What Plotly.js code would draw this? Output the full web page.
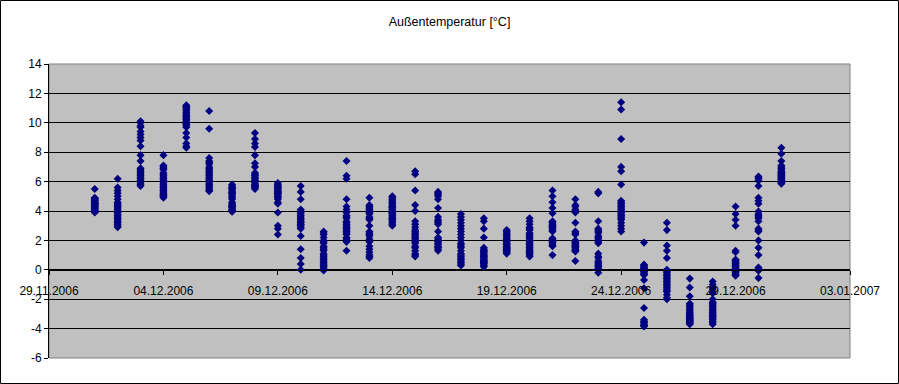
<!DOCTYPE html>
<html>
<head>
<meta charset="utf-8">
<script src="https://cdn.plot.ly/plotly-3.0.1.min.js"></script>
<style>html,body{margin:0;padding:0;background:#fff;}#chart{width:899px;height:384px;}</style>
</head>
<body>
<div id="chart"></div>
<script>
const chartTitle = "Außentemperatur [°C]";
const days = ["2006-12-01","2006-12-02","2006-12-03","2006-12-04","2006-12-05","2006-12-06","2006-12-07","2006-12-08","2006-12-09","2006-12-10","2006-12-11","2006-12-12","2006-12-13","2006-12-14","2006-12-15","2006-12-16","2006-12-17","2006-12-18","2006-12-19","2006-12-20","2006-12-21","2006-12-22","2006-12-23","2006-12-24","2006-12-25","2006-12-26","2006-12-27","2006-12-28","2006-12-29","2006-12-30","2006-12-31"];
const temps = [
  [5.5, 4.9, 4.8, 4.7, 4.6, 4.5, 4.4, 4.3, 4.2, 4.1, 4.0, 3.9, 3.95, 4.05, 4.15, 4.25, 4.35, 4.5, 4.6, 4.7, 4.8, 4.85, 4.55, 4.45],
  [6.2, 5.6, 5.4, 5.2, 5.0, 4.8, 4.6, 4.4, 4.2, 4.0, 3.8, 3.7, 3.6, 3.5, 3.4, 3.3, 3.2, 3.1, 3.0, 2.9, 4.5, 4.3, 4.1, 3.9],
  [10.1, 10.0, 9.8, 9.7, 9.4, 9.2, 9.0, 8.8, 8.4, 7.8, 7.4, 6.8, 6.7, 6.5, 6.4, 6.3, 6.2, 6.1, 6.0, 5.9, 5.8, 5.7, 6.6, 6.9],
  [7.8, 7.1, 7.0, 6.8, 6.6, 6.5, 6.3, 6.2, 6.0, 5.9, 5.8, 5.6, 5.5, 5.4, 5.3, 5.2, 5.1, 5.0, 4.9, 6.9, 6.4, 5.7, 5.05, 6.1],
  [11.2, 11.1, 11.0, 10.9, 10.8, 10.6, 10.5, 10.4, 10.2, 10.1, 10.0, 9.9, 9.8, 9.7, 9.3, 9.0, 8.6, 8.4, 8.3, 10.3, 10.7, 9.95, 10.45, 11.05],
  [10.8, 9.6, 7.6, 7.4, 7.2, 7.0, 6.9, 6.8, 6.6, 6.5, 6.4, 6.2, 6.1, 6.0, 5.9, 5.8, 5.7, 5.6, 5.5, 5.4, 7.3, 6.7, 6.3, 5.35],
  [5.8, 5.7, 5.6, 5.5, 5.4, 5.3, 5.2, 5.1, 5.0, 4.9, 4.8, 4.6, 4.5, 4.4, 4.3, 4.2, 4.1, 4.0, 3.95, 4.35, 5.55, 5.25, 4.05, 4.25],
  [9.3, 8.9, 8.6, 8.35, 7.8, 7.25, 7.0, 6.6, 6.5, 6.4, 6.3, 6.2, 6.1, 6.0, 5.9, 5.8, 5.7, 5.6, 5.5, 6.45, 6.25, 6.05, 5.75, 5.65],
  [5.9, 5.8, 5.7, 5.6, 5.5, 5.4, 5.3, 5.2, 5.1, 5.0, 4.9, 4.8, 4.6, 4.5, 3.9, 3.0, 2.8, 2.4, 5.65, 5.35, 5.15, 4.95, 5.55, 5.25],
  [5.7, 5.3, 4.8, 4.1, 4.0, 3.9, 3.8, 3.7, 3.4, 3.3, 3.2, 3.1, 3.0, 2.9, 2.8, 2.3, 1.4, 0.8, 0.4, 0.0, 3.6, 3.5, 3.25, 3.05],
  [2.6, 2.4, 2.2, 2.0, 1.8, 1.6, 1.4, 1.3, 1.1, 1.0, 0.9, 0.8, 0.7, 0.6, 0.5, 0.4, 0.3, 0.2, 0.1, 0.0, -0.05, 2.5, 1.9, 1.5],
  [7.4, 6.4, 6.2, 4.8, 4.3, 4.1, 3.9, 3.7, 3.5, 3.3, 3.2, 3.0, 2.9, 2.8, 2.7, 2.6, 2.5, 2.4, 2.2, 2.1, 1.9, 1.3, 3.6, 3.1],
  [4.9, 4.4, 4.3, 4.2, 4.0, 3.9, 3.8, 3.6, 3.5, 3.4, 3.0, 2.6, 2.5, 2.3, 2.1, 1.9, 1.6, 1.4, 1.2, 1.0, 0.9, 0.8, 4.1, 2.4],
  [5.0, 4.9, 4.8, 4.7, 4.6, 4.5, 4.4, 4.3, 4.2, 4.1, 4.0, 3.9, 3.8, 3.7, 3.6, 3.5, 3.4, 3.3, 3.2, 3.1, 3.0, 4.25, 3.85, 3.45],
  [6.7, 6.5, 5.4, 4.4, 4.0, 3.3, 3.1, 2.9, 2.7, 2.5, 2.4, 2.3, 2.2, 2.1, 2.0, 1.9, 1.8, 1.6, 1.5, 1.3, 1.1, 1.0, 0.9, 2.6],
  [5.3, 5.2, 5.0, 4.8, 4.2, 3.6, 3.4, 3.2, 3.1, 2.6, 2.2, 2.1, 2.0, 1.9, 1.8, 1.7, 1.6, 1.5, 1.4, 1.3, 5.1, 3.3, 1.95, 1.55],
  [3.8, 3.6, 3.4, 3.2, 3.0, 2.8, 2.6, 2.4, 2.2, 2.0, 1.8, 1.7, 1.5, 1.3, 1.1, 1.0, 0.9, 0.8, 0.7, 0.6, 0.5, 0.4, 0.3, 1.6],
  [3.5, 3.3, 2.8, 2.2, 1.5, 1.4, 1.3, 1.2, 1.1, 1.0, 0.9, 0.85, 0.8, 0.7, 0.6, 0.55, 0.5, 0.4, 0.3, 0.2, 1.25, 0.95, 0.65, 0.45],
  [2.7, 2.6, 2.5, 2.4, 2.3, 2.2, 2.1, 2.0, 1.95, 1.9, 1.8, 1.7, 1.6, 1.5, 1.45, 1.4, 1.3, 1.25, 1.2, 1.1, 2.05, 1.75, 1.55, 1.35],
  [3.5, 3.3, 3.1, 2.9, 2.7, 2.5, 2.4, 2.2, 2.1, 2.0, 1.9, 1.8, 1.6, 1.5, 1.4, 1.3, 1.2, 1.1, 1.0, 0.9, 2.3, 1.7, 2.8, 1.25],
  [5.4, 5.0, 4.6, 4.2, 3.85, 3.3, 3.2, 3.1, 3.0, 2.9, 2.8, 2.7, 2.6, 2.15, 2.05, 1.95, 1.85, 1.75, 1.65, 1.6, 1.0, 3.25, 2.95, 2.0],
  [4.8, 4.4, 4.0, 3.2, 2.6, 2.4, 2.0, 1.9, 1.8, 1.7, 1.6, 1.5, 1.4, 1.3, 1.25, 0.6, 4.3, 3.9, 2.5, 1.85, 1.55, 1.35, 4.1, 1.65],
  [5.3, 5.2, 3.3, 2.8, 2.7, 2.5, 2.3, 2.2, 2.0, 1.9, 1.8, 1.1, 0.8, 0.6, 0.4, 0.2, 0.0, -0.2, 2.6, 2.1, 0.9, 0.5, 0.3, 0.1],
  [11.4, 10.9, 8.9, 7.0, 6.7, 5.8, 4.7, 4.5, 4.4, 4.3, 4.2, 4.1, 4.0, 3.9, 3.8, 3.7, 3.6, 3.4, 3.2, 3.0, 2.8, 2.6, 4.6, 3.5],
  [1.85, 0.35, 0.25, 0.15, 0.05, -0.05, -0.15, -0.25, -0.35, -0.7, -1.25, -2.6, -3.4, -3.5, -3.6, -3.7, -3.8, -3.85, 0.3, 0.1, -0.1, -0.3, -3.55, -3.75],
  [3.2, 2.7, 1.65, 1.3, 0.8, 0.0, -0.1, -0.2, -0.3, -0.4, -0.5, -0.6, -0.7, -0.8, -0.9, -1.0, -1.1, -1.2, -1.3, -1.4, -1.5, -1.7, -1.9, -2.0],
  [-0.6, -1.2, -1.8, -2.3, -2.4, -2.5, -2.6, -2.7, -2.8, -2.9, -3.0, -3.05, -3.1, -3.2, -3.25, -3.3, -3.35, -3.4, -3.45, -3.5, -3.55, -3.6, -3.65, -3.7],
  [-0.8, -1.0, -1.3, -1.6, -2.0, -2.3, -2.5, -2.6, -2.7, -2.8, -2.9, -3.0, -3.1, -3.2, -3.3, -3.4, -3.5, -3.6, -3.7, -1.2, -1.5, -2.2, -2.4, -3.15],
  [4.3, 3.8, 3.4, 3.0, 1.3, 1.2, 0.7, 0.6, 0.5, 0.4, 0.3, 0.2, 0.1, 0.0, -0.1, -0.2, -0.3, -0.4, 0.65, 0.45, 0.25, 0.05, -0.15, -0.35],
  [6.35, 6.2, 6.05, 5.7, 4.9, 4.7, 4.5, 3.97, 3.8, 3.7, 3.5, 3.3, 2.8, 2.7, 2.6, 2.0, 1.5, 1.0, 0.15, 0.05, -0.07, -0.55, 3.6, 6.25],
  [8.3, 7.9, 7.4, 7.0, 6.9, 6.8, 6.7, 6.65, 6.6, 6.5, 6.45, 6.4, 6.35, 6.3, 6.25, 6.2, 6.15, 6.1, 6.0, 5.95, 5.9, 5.85, 7.1, 6.55]
];
const xRange = ["2006-11-29", "2007-01-03"];
const yTicks = [-6, -4, -2, 0, 2, 4, 6, 8, 10, 12, 14];

const xs = [], ys = [];
days.forEach((d, i) => temps[i].forEach(v => { xs.push(d); ys.push(v); }));

const W = 899, H = 384, L = 49, R = 49, T = 64, B = 26;
const pw = W - L - R, ph = H - T - B;
const font = {family: "Liberation Sans, Arial, sans-serif", size: 12, color: "#000"};

const data = [{
  type: "scatter", mode: "markers", x: xs, y: ys,
  marker: {symbol: "diamond", size: 6.2, color: "#000080", line: {width: 0}},
  hoverinfo: "skip", cliponaxis: false
}];

const layout = {
  width: W, height: H,
  margin: {l: L, r: R, t: T, b: B, pad: 0},
  paper_bgcolor: "#ffffff", plot_bgcolor: "#c0c0c0",
  font: font, showlegend: false,
  title: {text: chartTitle, font: {family: font.family, size: 12.5, color: "#000"}, x: 0.5, xanchor: "center", y: 1 - 22/H, yanchor: "middle"},
  xaxis: {
    type: "date", range: xRange, tick0: xRange[0], dtick: 5 * 86400000,
    tickformat: "%d.%m.%Y", anchor: "free", position: 0.3,
    showline: true, linecolor: "#000", linewidth: 1,
    ticks: "outside", ticklen: 4, tickcolor: "#000", ticklabelstandoff: 6,
    showgrid: false, zeroline: false, tickfont: font, fixedrange: true
  },
  yaxis: {
    range: [-6, 14], tickvals: yTicks, ticktext: yTicks.map(String),
    showline: true, linecolor: "#000", linewidth: 1,
    ticks: "outside", ticklen: 4, tickcolor: "#000",
    showgrid: true, gridcolor: "#000", gridwidth: 1,
    zeroline: false, tickfont: font, fixedrange: true
  },
  shapes: [
    {type: "rect", xref: "paper", yref: "paper", x0: 0, x1: 1, y0: 0, y1: 1,
     line: {color: "#808080", width: 1}, layer: "below"},
    {type: "rect", xref: "paper", yref: "paper",
     x0: -48.5/pw, x1: (W - L - 0.5)/pw, y0: -(B - 0.5)/ph, y1: (ph + T - 0.5)/ph,
     line: {color: "#000", width: 1}}
  ]
};

Plotly.newPlot("chart", data, layout, {staticPlot: true, displayModeBar: false});
</script>
</body>
</html>
